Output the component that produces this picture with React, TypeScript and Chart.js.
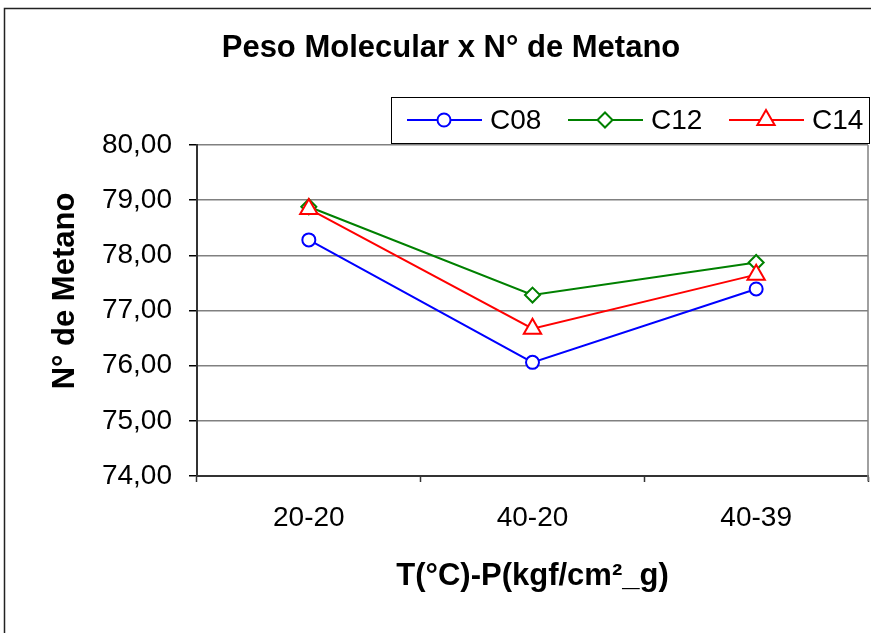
import React, { useEffect, useRef } from "react";
import { Chart, registerables } from "chart.js";
import { drawPoint } from "chart.js/helpers";
Chart.register(...registerables);

const categories = ["20-20", "40-20", "40-39"];
const c08 = [78.28, 76.06, 77.39];
const c12 = [78.88, 77.28, 77.87];
const c14 = [78.84, 76.67, 77.65];
const yTicks = [74, 75, 76, 77, 78, 79, 80];
const seriesNames = ["C08", "C12", "C14"];
const titleText = "Peso Molecular x N° de Metano";
const xTitle = "T(°C)-P(kgf/cm²_g)";
const yTitle = "N° de Metano";
const FONT = "'Liberation Sans', Arial, sans-serif";

const decor = {
  id: "decor",
  beforeDraw(chart: any) {
    const ctx = chart.ctx;
    ctx.save();
    ctx.fillStyle = "#fff";
    ctx.fillRect(0, 0, chart.width, chart.height);
    ctx.strokeStyle = "#222";
    ctx.lineWidth = 1.5;
    ctx.strokeRect(4.5, 8.5, chart.width + 40, chart.height + 40);
    ctx.restore();
  },
  afterDraw(chart: any) {
    const { ctx, chartArea } = chart;
    ctx.save();
    // right border of plot area
    ctx.strokeStyle = "#808080";
    ctx.lineWidth = 1.5;
    ctx.beginPath();
    ctx.moveTo(chartArea.right, chartArea.top);
    ctx.lineTo(chartArea.right, chartArea.bottom + 5);
    ctx.stroke();

    // title
    ctx.fillStyle = "#000";
    ctx.textAlign = "center";
    ctx.textBaseline = "middle";
    ctx.font = `bold 31px ${FONT}`;
    ctx.fillText(titleText, 451, 48);

    // y title
    ctx.save();
    ctx.translate(65, 291);
    ctx.rotate(-Math.PI / 2);
    ctx.font = `bold 31px ${FONT}`;
    ctx.fillText(yTitle, 0, 0);
    ctx.restore();

    // legend
    const bx = 391, by = 97, bw = 478, bh = 46;
    ctx.fillStyle = "#fff";
    ctx.fillRect(bx, by, bw, bh);
    ctx.strokeStyle = "#000";
    ctx.lineWidth = 1;
    ctx.strokeRect(bx + 0.5, by + 0.5, bw, bh);
    const cy = by + bh / 2;
    chart.data.datasets.forEach((ds: any, i: number) => {
      const x0 = 407 + i * 161;
      ctx.strokeStyle = ds.borderColor;
      ctx.lineWidth = 2;
      ctx.beginPath();
      ctx.moveTo(x0, cy);
      ctx.lineTo(x0 + 75, cy);
      ctx.stroke();
      ctx.fillStyle = "#fff";
      ctx.strokeStyle = ds.borderColor;
      drawPoint(ctx, { pointStyle: ds.pointStyle, radius: ds.pointRadius, borderWidth: 2, rotation: 0 } as any, x0 + 37, cy);
      ctx.fillStyle = "#000";
      ctx.textAlign = "left";
      ctx.textBaseline = "middle";
      ctx.font = `28px ${FONT}`;
      ctx.fillText(ds.label, x0 + 83, cy + 1);
    });
    ctx.restore();
  },
};

export default function App() {
  const ref = useRef<HTMLCanvasElement>(null);
  useEffect(() => {
    document.body.style.margin = "0";
    const mk = (label: string, data: number[], color: string, style: string, r: number, order: number) => ({
      label,
      data,
      borderColor: color,
      backgroundColor: "#fff",
      pointBackgroundColor: "#fff",
      pointBorderColor: color,
      pointBorderWidth: 2,
      pointRadius: r,
      pointStyle: style,
      borderWidth: 2,
      tension: 0,
      order,
    });
    const chart = new Chart(ref.current!, {
      type: "line",
      data: {
        labels: categories,
        datasets: [
          mk(seriesNames[0], c08, "#0000ff", "circle", 6.5, 2),
          mk(seriesNames[1], c12, "#008000", "rectRot", 7.5, 1),
          mk(seriesNames[2], c14, "#ff0000", "triangle", 10, 0),
        ],
      },
      options: {
        animation: false,
        responsive: false,
        maintainAspectRatio: false,
        layout: { autoPadding: false, padding: { top: 145, right: 3, left: 0, bottom: 0 } },
        plugins: {
          legend: { display: false },
          title: { display: false },
          tooltip: { enabled: false },
        },
        scales: {
          x: {
            type: "category",
            offset: true,
            grid: { offset: true, drawOnChartArea: false, drawTicks: true, tickLength: 6, tickColor: "#333", tickWidth: 1.5 },
            border: { color: "#333", width: 2 },
            ticks: { color: "#000", font: { family: FONT, size: 28 }, padding: 19, maxRotation: 0, autoSkip: false },
            title: {
              display: true,
              text: xTitle,
              color: "#000",
              font: { family: FONT, size: 31, weight: "bold" },
              padding: { top: 0, bottom: 38 },
            },
            afterFit(scale: any) {
              scale.height = 157;
              scale.paddingLeft = 0;
              scale.paddingRight = 0;
            },
          },
          y: {
            min: 74,
            max: 80,
            afterBuildTicks(scale: any) {
              scale.ticks = yTicks.map((v) => ({ value: v }));
            },
            ticks: {
              color: "#000",
              font: { family: FONT, size: 28 },
              padding: 17,
              callback: (v: any) => Number(v).toFixed(2).replace(".", ","),
            },
            grid: { color: "#808080", lineWidth: 1.5, tickLength: 8, tickColor: "#000" },
            border: { color: "#333", width: 2 },
            afterFit(scale: any) {
              scale.width = 197;
              scale.paddingTop = 0;
              scale.paddingBottom = 0;
            },
          },
        },
      } as any,
      plugins: [decor],
    });
    return () => chart.destroy();
  }, []);
  return (
    <div style={{ width: 871, height: 633 }}>
      <canvas ref={ref} width={871} height={633} style={{ display: "block" }} />
    </div>
  );
}
